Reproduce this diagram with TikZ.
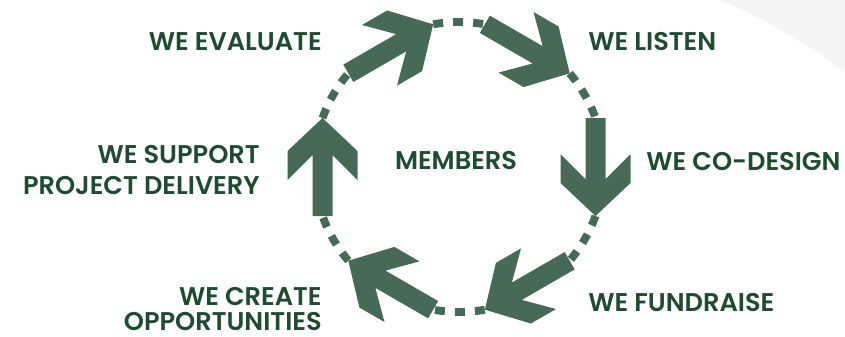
\documentclass[tikz,border=0pt]{standalone}
\usepackage{fontspec}
\setmainfont{Poppins}[BoldFont={Poppins SemiBold}]
\definecolor{arrowgreen}{HTML}{466A57}
\definecolor{textgreen}{HTML}{1F4B32}
\definecolor{bggray}{HTML}{F5F5F5}
\tikzset{
  cyclearrow/.style={fill=arrowgreen},
  cycledash/.style={draw=arrowgreen, line width=4.5pt, dash pattern=on 5.7pt off 5.7pt},
  steplabel/.style={text=textgreen, inner sep=0pt,
    font=\bfseries\fontsize{14.6}{14.4}\selectfont}
}
\begin{document}
\begin{tikzpicture}[x=0.02cm,y=0.02cm]  % 1 unit = 1 px of the layout

    \useasboundingbox (0,0) rectangle (845,-336);

    % light background swoosh, top right
    \fill[bggray] (720,0) .. controls (770,-22) and (810,-45) .. (845,-73) -- (845,0) -- cycle;

    % centre of the cycle
    \coordinate (hub) at (459,-167);

    % six arrows on chords, dashes between them
    \foreach \a in {0,60,...,300}{
        \begin{scope}[shift={(hub)}, shift={(\a:136.5)}, rotate=\a-90]
            \fill[cyclearrow] (-49,10) -- (12,10) -- (-13,35) -- (16,35) -- (49,0)
                -- (16,-35) -- (-13,-35) -- (12,-10) -- (-49,-10) -- cycle;
        \end{scope}
        \draw[cycledash] (hub) ++(\a-19.75:145) arc[start angle=\a-19.75, end angle=\a-40.25, radius=145];
    }

    % labels
    \node[steplabel] (members) at (456,-161) {MEMBERS};
    \node[steplabel, anchor=east] (evaluate) at (322,-42) {WE EVALUATE};
    \node[steplabel, anchor=west] (listen) at (588,-42) {WE LISTEN};
    \node[steplabel, anchor=west] (codesign) at (646,-162) {WE CO-DESIGN};
    \node[steplabel, anchor=west] (fundraise) at (588,-302) {WE FUNDRAISE};
    \node[steplabel, anchor=east, align=right] (create) at (322,-309) {WE CREATE\\OPPORTUNITIES};
    \node[steplabel, anchor=east, align=right] (support) at (260,-170) {WE SUPPORT\\[3pt]PROJECT DELIVERY};

\end{tikzpicture}
\end{document}
